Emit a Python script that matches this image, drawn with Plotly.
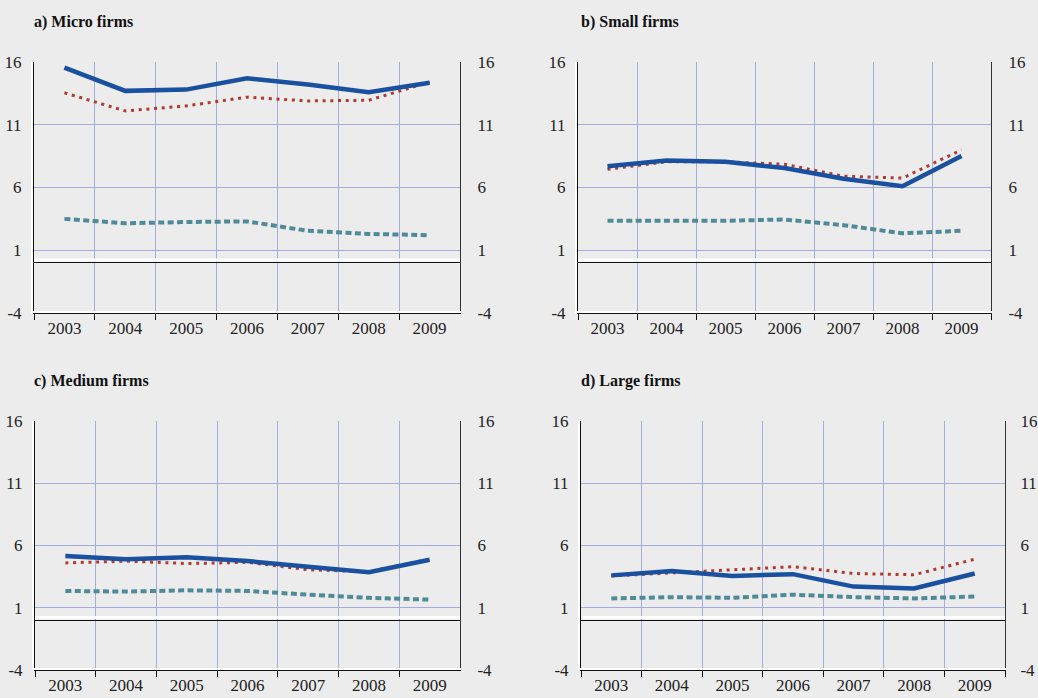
import plotly.graph_objects as go

years = ["2003", "2004", "2005", "2006", "2007", "2008", "2009"]
panel_titles = ["a) Micro firms", "b) Small firms", "c) Medium firms", "d) Large firms"]

# series per panel: solid (blue), dotted (red), dashed (teal)
micro_solid = [15.55, 13.7, 13.8, 14.7, 14.2, 13.6, 14.35]
micro_dotted = [13.55, 12.1, 12.5, 13.2, 12.9, 12.95, 14.4]
micro_dashed = [3.5, 3.15, 3.25, 3.3, 2.55, 2.3, 2.2]

small_solid = [7.7, 8.15, 8.05, 7.55, 6.7, 6.1, 8.5]
small_dotted = [7.45, 8.05, 8.05, 7.85, 6.9, 6.75, 9.0]
small_dashed = [3.35, 3.35, 3.35, 3.45, 3.0, 2.35, 2.55]

medium_solid = [5.15, 4.9, 5.05, 4.75, 4.3, 3.85, 4.85]
medium_dotted = [4.6, 4.75, 4.55, 4.65, 4.05, 3.9, 4.9]
medium_dashed = [2.35, 2.3, 2.4, 2.35, 2.05, 1.8, 1.65]

large_solid = [3.6, 3.95, 3.55, 3.7, 2.7, 2.55, 3.75]
large_dotted = [3.55, 3.8, 4.05, 4.3, 3.75, 3.65, 4.9]
large_dashed = [1.75, 1.85, 1.8, 2.05, 1.85, 1.75, 1.9]

y_ticks = [16, 11, 6, 1, -4]
y_tick_text = ["16", "11", "6", "1", "-4"]

panels = [
    (micro_solid, micro_dotted, micro_dashed),
    (small_solid, small_dotted, small_dashed),
    (medium_solid, medium_dotted, medium_dashed),
    (large_solid, large_dotted, large_dashed),
]

W, H = 1038, 698
# pixel boxes (left, right, top, bottom)
boxes = [(34, 460, 62, 313), (578, 991, 62, 313), (35, 460, 421, 670), (581, 1005, 421, 670)]
title_pos = [(32, 22), (579, 22), (32, 381), (579, 381)]
right_standoff = [13, 13, 13, 11]

BG = "#ececec"
GRID = "#a3abe0"
BLUE = "#1a50a0"
RED = "#b23a2c"
TEAL = "#4f8a98"
FONT = "Liberation Serif, Times New Roman, serif"

fig = go.Figure()
layout = dict(
    width=W, height=H, autosize=False, paper_bgcolor=BG, plot_bgcolor=BG,
    margin=dict(l=0, r=0, t=0, b=0, pad=0, autoexpand=False), showlegend=False,
    font=dict(family=FONT, size=17, color="#222222"),
)
shapes = []
annotations = []

for i, (solid, dotted, dashed) in enumerate(panels):
    n = i + 1
    xa = "x" if n == 1 else f"x{n}"
    ya = "y" if n == 1 else f"y{n}"
    ya_r_num = n + 4
    ya_r = f"y{ya_r_num}"
    l, r, t, b = boxes[i]
    xdom = [l / W, r / W]
    ydom = [1 - b / H, 1 - t / H]

    fig.add_trace(go.Scatter(x=years, y=dashed, xaxis=xa, yaxis=ya, mode="lines",
                             line=dict(color=TEAL, width=4, dash="6px,3.4px")))
    fig.add_trace(go.Scatter(x=years, y=dotted, xaxis=xa, yaxis=ya, mode="lines",
                             line=dict(color=RED, width=3, dash="3px,4.7px")))
    fig.add_trace(go.Scatter(x=years, y=solid, xaxis=xa, yaxis=ya, mode="lines",
                             line=dict(color=BLUE, width=4.5)))
    # invisible trace to carry the right-hand axis
    fig.add_trace(go.Scatter(x=years, y=solid, xaxis=xa, yaxis=ya_r, mode="lines",
                             line=dict(width=0), opacity=0, hoverinfo="skip"))

    xkey = "xaxis" if n == 1 else f"xaxis{n}"
    ykey = "yaxis" if n == 1 else f"yaxis{n}"
    yrkey = f"yaxis{ya_r_num}"
    layout[xkey] = dict(
        domain=xdom, anchor=ya, type="category", range=[-0.5, 6.5], automargin=False,
        tickson="boundaries", ticks="outside", ticklen=6, tickcolor="#111111",
        showgrid=True, gridcolor=GRID, gridwidth=1,
        showline=True, linecolor="#111111", linewidth=1,
        tickfont=dict(family=FONT, size=17, color="#222222"),
        fixedrange=True,
    )
    layout[ykey] = dict(
        domain=ydom, anchor=xa, range=[-4, 16], tickvals=y_ticks, ticktext=y_tick_text,
        automargin=False,
        showgrid=True, gridcolor=GRID, gridwidth=1,
        zeroline=True, zerolinecolor="#111111", zerolinewidth=1,
        showline=True, linecolor="#111111", linewidth=1,
        ticks="", ticklabelstandoff=8,
        tickfont=dict(family=FONT, size=17, color="#222222"),
        fixedrange=True,
    )
    layout[yrkey] = dict(
        overlaying=ya, anchor=xa, side="right", range=[-4, 16], tickvals=y_ticks,
        ticktext=y_tick_text, automargin=False,
        showgrid=False, zeroline=False,
        showline=True, linecolor="#333333", linewidth=1,
        ticks="", ticklabelstandoff=right_standoff[i],
        tickfont=dict(family=FONT, size=17, color="#222222"),
        fixedrange=True,
    )
    # white highlight just above the zero line, left of the axis and above the bottom axis
    shapes.append(dict(type="line", xref=f"{xa} domain", yref=ya, x0=0, x1=1,
                       y0=0.22, y1=0.22, line=dict(color="white", width=3), layer="above"))
    shapes.append(dict(type="line", xref="paper", yref="paper", x0=(l - 2) / W, x1=(l - 2) / W,
                       y0=ydom[0], y1=ydom[1], line=dict(color="white", width=2)))
    shapes.append(dict(type="line", xref="paper", yref="paper", x0=(l - 2) / W, x1=(r + 1) / W,
                       y0=1 - (b - 1) / H, y1=1 - (b - 1) / H, line=dict(color="white", width=2)))
    tx, ty = title_pos[i]
    annotations.append(dict(text=f"<b>{panel_titles[i]}</b>", xref="paper", yref="paper",
                            x=tx / W, y=1 - ty / H, xanchor="left", yanchor="middle",
                            showarrow=False, font=dict(family=FONT, size=16, color="#111111")))

layout["shapes"] = shapes
layout["annotations"] = annotations
fig.update_layout(**layout)
fig.write_html("out.html", config={"displayModeBar": False, "responsive": False},
               post_script="document.body.style.margin='0';document.body.style.overflow='hidden';")
